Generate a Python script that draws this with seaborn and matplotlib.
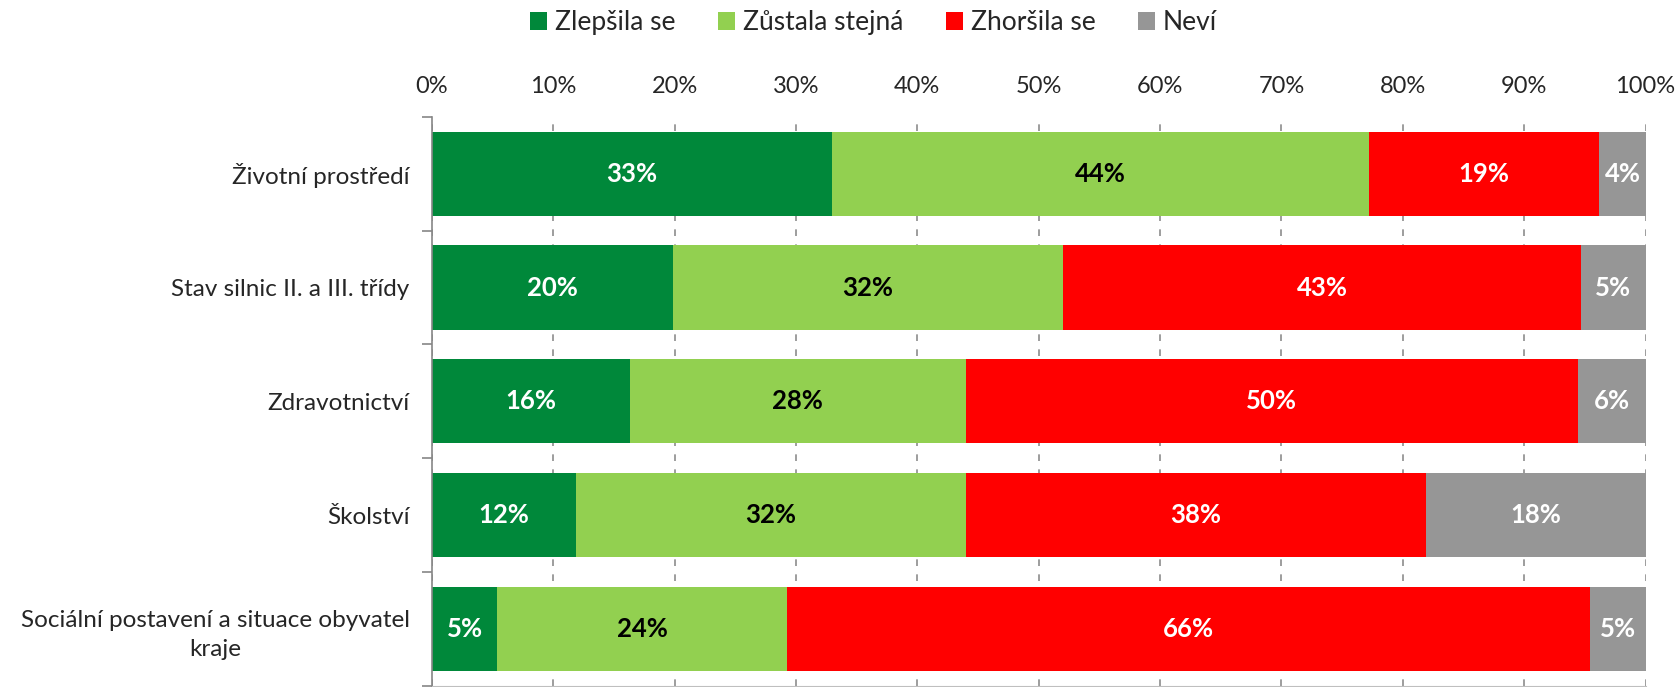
import numpy as np
import pandas as pd
import matplotlib
matplotlib.use("Agg")
import matplotlib.pyplot as plt
import seaborn as sns
from matplotlib.patches import Patch

sns.set_style("white")
plt.rcParams["font.family"] = ["Lato", "DejaVu Sans"]

categories = [
    "Životní prostředí",
    "Stav silnic II. a III. třídy",
    "Zdravotnictví",
    "Školství",
    "Sociální postavení a situace obyvatel\nkraje",
]
series = ["Zlepšila se", "Zůstala stejná", "Zhoršila se", "Neví"]
improved = [33.0, 19.9, 16.3, 11.9, 5.4]
same = [44.2, 32.1, 27.7, 32.1, 23.9]
worse = [19.0, 42.7, 50.4, 37.9, 66.1]
unknown = [3.8, 5.3, 5.6, 18.1, 4.6]

colors = ["#00883A", "#92D050", "#FF0000", "#969696"]
label_colors = ["white", "black", "white", "white"]

values = np.array([improved, same, worse, unknown])
cum = values.cumsum(axis=0)

fig = plt.figure(figsize=(16.8, 6.87), dpi=100)
ax = fig.add_axes([0.257, 0.0015, 0.7225, 0.8285])

# draw from the right-most cumulative bar backwards so they stack visually
for i in range(len(series) - 1, -1, -1):
    df = pd.DataFrame({"category": categories, "cum": cum[i]})
    sns.barplot(data=df, x="cum", y="category", color=colors[i], width=0.74,
                orient="h", ax=ax, linewidth=0, saturation=1, zorder=2)

# value labels
for i in range(len(series)):
    starts = cum[i] - values[i]
    for j, v in enumerate(values[i]):
        ax.text(starts[j] + v / 2, j, f"{v:.0f}%", ha="center", va="center",
                color=label_colors[i], fontsize=18.5, fontweight="bold", zorder=3)

ax.set_xlim(0, 100)
ax.set_ylim(len(categories) - 0.5, -0.5)
ax.set_xticks(np.arange(0, 101, 10))
ax.set_xticklabels([f"{t}%" for t in range(0, 101, 10)], fontsize=17)
ax.xaxis.tick_top()
ax.tick_params(axis="x", length=0, pad=14)
ax.set_xlabel("")
ax.set_ylabel("")
ax.tick_params(axis="y", which="major", length=0, labelsize=17.5, pad=16)
ax.set_yticks(np.arange(-0.5, len(categories), 1), minor=True)
ax.tick_params(axis="y", which="minor", left=True, length=7, width=1.2,
               color="#868686", direction="out")
for lbl in ax.get_yticklabels():
    lbl.set_multialignment("center")
    lbl.set_linespacing(1.45)

ax.grid(False)
ax.xaxis.grid(True, color="#8c8c8c", linestyle=(0, (4, 5)), linewidth=1.2)
ax.set_axisbelow(True)
for side in ["top", "right"]:
    ax.spines[side].set_visible(False)
ax.spines["left"].set_color("#868686")
ax.spines["left"].set_linewidth(1.2)
ax.spines["bottom"].set_color("#bfbfbf")

handles = [Patch(facecolor=c, edgecolor="none", label=s) for c, s in zip(colors, series)]
fig.legend(handles=handles, loc="center", bbox_to_anchor=(0.52, 0.967), ncol=4,
           frameon=False, fontsize=19, handlelength=0.65, handleheight=0.65,
           handletextpad=0.3, columnspacing=1.6)

fig.savefig("out.png", dpi=100)
